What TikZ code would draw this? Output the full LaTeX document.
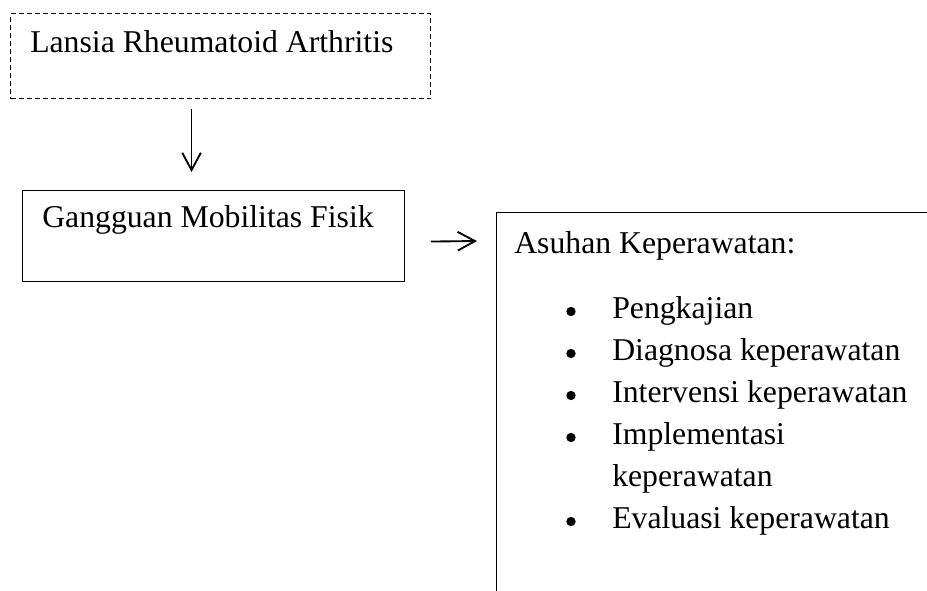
\documentclass[tikz,border=0pt]{standalone}
\usepackage{fontspec}
\setmainfont{Liberation Serif}
\usetikzlibrary{arrows.meta}

\tikzset{
  box/.style={draw, line width=0.8pt, inner sep=0pt, anchor=north west},
  dashbox/.style={box, dash pattern=on 3.75pt off 2.25pt},
  txt/.style={inner sep=0pt, anchor=base west, font=\fontsize{23.8}{28}\selectfont},
  dot/.style={circle, fill, inner sep=0pt, minimum size=7pt},
  arr/.style={line width=1.4pt, -{Straight Barb[length=13pt, width=14pt, line width=1.4pt]}}
}

\begin{document}
\begin{tikzpicture}[x=0.75pt, y=-0.75pt]
\useasboundingbox (0,0) rectangle (927,590);
\clip (0,0) rectangle (927,590);
% boxes
\node[dashbox, minimum width=315pt, minimum height=63.75pt] (lansia) at (10,13) {};
\node[box, minimum width=286.5pt, minimum height=68.25pt] (gangguan) at (22,190) {};
\node[box, minimum width=400pt, minimum height=350pt] (asuhan) at (496,212) {};
% texts
\node[txt] (lansiatxt) at (30,52) {Lansia Rheumatoid Arthritis};
\node[txt] (gangguantxt) at (42,227) {Gangguan Mobilitas Fisik};
\node[txt] (asuhantxt) at (514,253) {Asuhan Keperawatan:};
% list
\node[dot] (b1) at (571,311.5) {};
\node[txt] (i1) at (612,318) {Pengkajian};
\node[dot] (b2) at (571,353.5) {};
\node[txt] (i2) at (612,360) {Diagnosa keperawatan};
\node[dot] (b3) at (571,395.5) {};
\node[txt] (i3) at (612,402) {Intervensi keperawatan};
\node[dot] (b4) at (571,437.5) {};
\node[txt] (i4) at (612,444) {Implementasi};
\node[txt] (i4b) at (612,486) {keperawatan};
\node[dot] (b5) at (571,521.5) {};
\node[txt] (i5) at (612,528) {Evaluasi keperawatan};
% arrows
\draw[arr] ([shift={(-29,10)}]lansia.south) -- ([shift={(-22,-18)}]gangguan.north);
\draw[arr] ([shift={(26,5.5)}]gangguan.east) -- ([shift={(-19,29)}]asuhan.north west);
\end{tikzpicture}
\end{document}
